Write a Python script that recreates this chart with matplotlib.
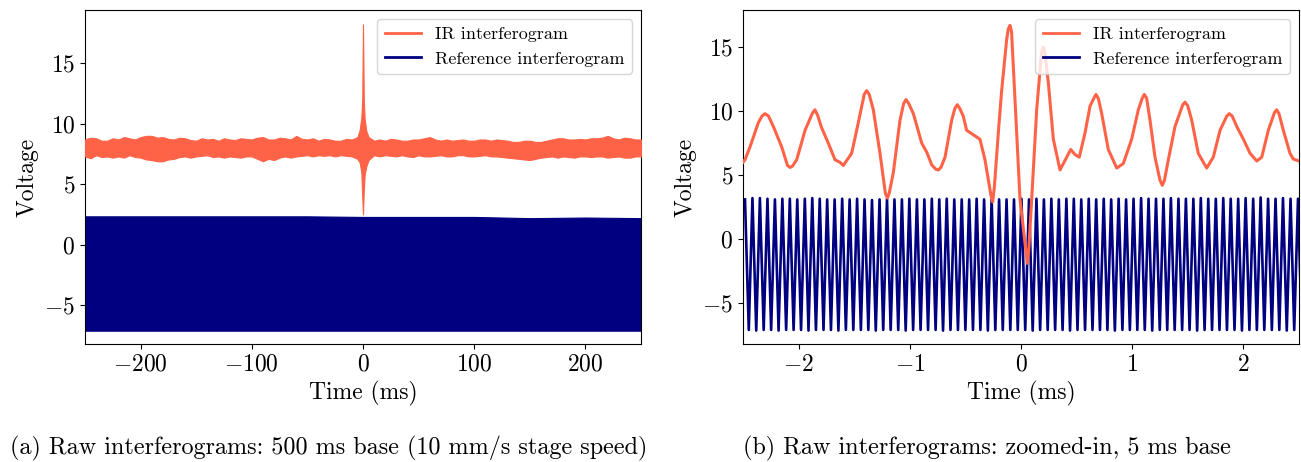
import matplotlib
matplotlib.use("Agg")
import matplotlib.pyplot as plt
from matplotlib.lines import Line2D

plt.rcParams['font.family'] = 'serif'
plt.rcParams['font.serif'] = ['cmr10']
plt.rcParams['mathtext.fontset'] = 'cm'
plt.rcParams['axes.formatter.use_mathtext'] = True

IR_COLOR = '#FF6347'
REF_COLOR = '#000080'

# ---------------- Panel (a): 500 ms base, envelopes ----------------
ir_env_t = [-250, -245, -240, -235, -230, -225, -220, -215, -210, -205,
            -200, -195, -190, -185, -180, -175, -170, -165, -160, -155,
            -150, -145, -140, -135, -130, -125, -120, -115, -110, -105,
            -100, -95, -90, -85, -80, -75, -70, -65, -60, -55,
            -50, -45, -40, -35, -30, -25, -20, -15, -10,
            -5, -3, -1.5, -0.7, 0, 0.7, 1.5, 3, 5,
            10, 15, 20, 25, 30, 35, 40, 45, 50, 55,
            60, 65, 70, 75, 80, 85, 90, 95, 100, 105,
            110, 115, 120, 125, 130, 135, 140, 145, 150, 155,
            160, 165, 170, 175, 180, 185, 190, 195, 200, 205,
            210, 215, 220, 225, 230, 235, 240, 245, 250]
ir_env_hi = [8.7, 8.85, 8.8, 8.6, 8.6, 8.8, 8.7, 8.9, 8.8, 8.7,
             8.9, 9.0, 9.0, 8.85, 8.9, 8.75, 8.7, 8.85, 8.8, 8.65,
             8.6, 8.8, 8.7, 8.75, 8.6, 8.8, 8.7, 8.65, 8.8, 8.75,
             8.7, 8.85, 8.9, 8.7, 8.7, 8.85, 8.8, 8.7, 9.0, 8.75,
             8.7, 8.8, 8.6, 8.75, 8.7, 8.6, 8.6, 8.75, 8.7,
             8.9, 9.5, 10.5, 12.0, 18.2, 12.0, 10.4, 9.4, 8.9,
             8.6, 8.7, 8.6, 8.75, 8.7, 8.6, 8.6, 8.7, 8.7, 8.8,
             8.9, 8.7, 8.6, 8.7, 8.6, 8.65, 8.7, 8.6, 8.6, 8.7,
             8.7, 8.6, 8.7, 8.65, 8.6, 8.5, 8.5, 8.6, 8.6, 8.5,
             8.5, 8.6, 8.7, 8.8, 8.8, 8.7, 8.7, 8.75, 8.7, 8.8,
             8.8, 8.85, 9.0, 8.8, 8.7, 8.85, 8.8, 8.7, 8.7]
ir_env_lo = [7.3, 7.15, 7.4, 7.25, 7.3, 7.2, 7.3, 7.2, 7.4, 7.25,
             7.2, 7.05, 7.0, 6.9, 6.9, 7.05, 7.1, 7.25, 7.3, 7.2,
             7.3, 7.35, 7.4, 7.25, 7.3, 7.2, 7.3, 7.25, 7.2, 7.3,
             7.3, 7.1, 6.9, 7.1, 7.0, 7.2, 7.3, 7.2, 7.3, 7.35,
             7.4, 7.3, 7.4, 7.35, 7.4, 7.3, 7.4, 7.35, 7.3,
             7.1, 6.8, 6.0, 4.0, 2.5, 4.5, 5.8, 6.5, 7.0,
             7.4, 7.3, 7.4, 7.35, 7.3, 7.4, 7.3, 7.25, 7.4, 7.3,
             7.3, 7.35, 7.4, 7.3, 7.3, 7.4, 7.4, 7.3, 7.3, 7.35,
             7.4, 7.3, 7.3, 7.25, 7.2, 7.15, 7.1, 7.05, 7.0, 7.1,
             7.2, 7.25, 7.3, 7.2, 7.3, 7.25, 7.2, 7.3, 7.3, 7.25,
             7.3, 7.3, 7.2, 7.25, 7.3, 7.2, 7.2, 7.3, 7.3]

ref_env_t = [-250, -200, -150, -100, -50, 0, 50, 100, 150, 200, 250]
ref_env_hi = [2.35, 2.35, 2.35, 2.35, 2.35, 2.3, 2.3, 2.3, 2.2, 2.25, 2.2]
ref_env_lo = [-7.1, -7.1, -7.1, -7.1, -7.1, -7.1, -7.1, -7.1, -7.1, -7.1, -7.1]

# ---------------- Panel (b): 5 ms base ----------------
ir_zoom_t = [-2.50, -2.482, -2.437, -2.362, -2.33, -2.302, -2.27, -2.227, -2.152, -2.10,
             -2.077, -2.055, -2.017, -1.942, -1.875, -1.853, -1.83, -1.793, -1.733, -1.673,
             -1.628, -1.598, -1.523, -1.463, -1.41, -1.388, -1.365, -1.328, -1.268, -1.22,
             -1.202, -1.185, -1.148, -1.088, -1.055, -1.034, -1.01, -0.968, -0.893, -0.848,
             -0.803, -0.765, -0.743, -0.72, -0.683, -0.623, -0.595, -0.573, -0.55, -0.519,
             -0.489, -0.429, -0.369, -0.324, -0.27, -0.255, -0.24, -0.204, -0.175, -0.13,
             -0.115, -0.099, -0.085, -0.054, -0.009, 0.045, 0.057, 0.07, 0.096, 0.141,
             0.185, 0.201, 0.215, 0.246, 0.291, 0.351, 0.411, 0.447, 0.486, 0.524,
             0.576, 0.621, 0.655, 0.674, 0.695, 0.726, 0.785, 0.861, 0.92, 0.995,
             1.055, 1.09, 1.109, 1.13, 1.16, 1.205, 1.25, 1.271, 1.29, 1.325,
             1.385, 1.455, 1.475, 1.50, 1.535, 1.594, 1.67, 1.729, 1.79, 1.85,
             1.873, 1.90, 1.94, 2.0, 2.06, 2.12, 2.165, 2.224, 2.28, 2.299,
             2.32, 2.359, 2.419, 2.449, 2.5]
ir_zoom_v = [6.0, 6.2, 7.2, 9.1, 9.6, 9.8, 9.6, 8.8, 7.2, 5.75,
             5.6, 5.7, 6.2, 8.5, 9.85, 10.1, 9.7, 8.7, 7.5, 6.2,
             6.0, 5.75, 6.7, 9.1, 11.3, 11.6, 11.3, 10.1, 6.7, 3.6,
             3.2, 3.6, 5.2, 9.3, 10.6, 10.9, 10.6, 9.8, 7.5, 6.8,
             5.8, 5.45, 5.4, 5.6, 6.4, 9.3, 10.2, 10.5, 10.2, 9.6,
             8.5, 8.15, 7.8, 6.2, 3.4, 2.9, 4.0, 8.3, 11.5, 15.5,
             16.4, 16.7, 16.2, 10.9, 3.1, -1.0, -1.9, -0.8, 3.1, 10.1,
             14.6, 15.0, 14.6, 12.2, 7.8, 5.4, 6.4, 7.0, 6.6, 6.4,
             8.3, 10.4, 11.0, 11.3, 11.0, 9.8, 7.0, 5.55, 5.9, 7.8,
             10.1, 11.0, 11.3, 11.0, 9.3, 6.4, 4.6, 4.2, 4.6, 6.2,
             8.8, 10.5, 10.7, 10.4, 9.3, 6.7, 5.55, 6.4, 8.5, 9.6,
             9.8, 9.6, 8.8, 7.8, 6.7, 6.1, 6.4, 8.5, 9.9, 10.1,
             9.8, 8.5, 6.7, 6.25, 6.1]

ref_crest_t = [-2.482, -2.415, -2.348, -2.280, -2.213, -2.146, -2.079, -2.012, -1.944, -1.877,
               -1.810, -1.743, -1.676, -1.608, -1.541, -1.474, -1.407, -1.340, -1.272, -1.205,
               -1.138, -1.071, -1.004, -0.936, -0.869, -0.802, -0.735, -0.668, -0.600, -0.533,
               -0.466, -0.399, -0.332, -0.264, -0.197, -0.130, -0.063, 0.004, 0.072, 0.139,
               0.206, 0.273, 0.340, 0.408, 0.475, 0.542, 0.609, 0.676, 0.744, 0.811,
               0.878, 0.945, 1.012, 1.080, 1.147, 1.214, 1.281, 1.348, 1.416, 1.483,
               1.550, 1.617, 1.684, 1.752, 1.819, 1.886, 1.953, 2.020, 2.088, 2.155,
               2.222, 2.289, 2.356, 2.424, 2.491]
ref_crest_v = [3.1, 3.2, 3.2, 3.15, 3.1, 3.15, 3.15, 3.1, 3.15, 3.2,
               3.15, 3.1, 3.1, 3.15, 3.1, 3.15, 3.1, 3.05, 3.1, 3.15,
               3.1, 3.1, 3.15, 3.1, 3.1, 3.15, 3.1, 3.15, 3.1, 3.1,
               3.1, 3.15, 3.1, 3.1, 3.1, 3.1, 3.1, 3.15, 3.1, 3.15,
               3.1, 3.15, 3.1, 3.15, 3.15, 3.1, 3.15, 3.1, 3.15, 3.1,
               3.15, 3.1, 3.15, 3.2, 3.15, 3.15, 3.15, 3.2, 3.15, 3.15,
               3.15, 3.2, 3.15, 3.15, 3.2, 3.15, 3.15, 3.2, 3.15, 3.25,
               3.15, 3.15, 3.2, 3.15, 3.15]
ref_trough_t = [-2.448, -2.381, -2.314, -2.247, -2.180, -2.112, -2.045, -1.978, -1.911, -1.844,
                -1.776, -1.709, -1.642, -1.575, -1.508, -1.440, -1.373, -1.306, -1.239, -1.172,
                -1.104, -1.037, -0.970, -0.903, -0.836, -0.768, -0.701, -0.634, -0.567, -0.500,
                -0.432, -0.365, -0.298, -0.231, -0.164, -0.096, -0.029, 0.038, 0.105, 0.172,
                0.240, 0.307, 0.374, 0.441, 0.508, 0.576, 0.643, 0.710, 0.777, 0.844,
                0.912, 0.979, 1.046, 1.113, 1.180, 1.248, 1.315, 1.382, 1.449, 1.516,
                1.584, 1.651, 1.718, 1.785, 1.852, 1.920, 1.987, 2.054, 2.121, 2.188,
                2.256, 2.323, 2.390, 2.457, 2.524]
ref_trough_v = [-7.1, -7.15, -7.1, -7.1, -7.15, -7.1, -7.1, -7.1, -7.15, -7.1,
                -7.1, -7.1, -7.15, -7.1, -7.1, -7.1, -7.1, -7.15, -7.1, -7.1,
                -7.1, -7.15, -7.1, -7.1, -7.1, -7.1, -7.15, -7.1, -7.1, -7.1,
                -7.1, -7.1, -7.15, -7.1, -7.1, -7.1, -7.1, -7.1, -7.15, -7.1,
                -7.1, -7.1, -7.1, -7.15, -7.1, -7.1, -7.1, -7.1, -7.1, -7.15,
                -7.1, -7.1, -7.1, -7.1, -7.15, -7.1, -7.1, -7.1, -7.1, -7.1,
                -7.15, -7.1, -7.1, -7.1, -7.1, -7.1, -7.15, -7.1, -7.1, -7.1,
                -7.1, -7.1, -7.15, -7.1, -7.1]

ref_t = [v for pair in zip(ref_crest_t, ref_trough_t) for v in pair]
ref_v = [v for pair in zip(ref_crest_v, ref_trough_v) for v in pair]

captions = ["(a) Raw interferograms: 500 ms base (10 mm/s stage speed)",
            "(b) Raw interferograms: zoomed-in, 5 ms base"]
legend_labels = ["IR interferogram", "Reference interferogram"]

W, H = 1301, 462
fig = plt.figure(figsize=(W / 100, H / 100), dpi=100)
ax1 = fig.add_axes([85 / W, 1 - 344 / H, 556 / W, 334 / H])
ax2 = fig.add_axes([743 / W, 1 - 344 / H, 556 / W, 334 / H])

FS = 17

# Panel (a)
ax1.fill_between(ref_env_t, ref_env_lo, ref_env_hi, color=REF_COLOR, lw=0.8, zorder=2)
ax1.fill_between(ir_env_t, ir_env_lo, ir_env_hi, color=IR_COLOR, edgecolor=IR_COLOR, lw=0.8, zorder=3)
ax1.set_xlim(-250, 250)
ax1.set_ylim(-8.2, 19.4)
ax1.set_xticks([-200, -100, 0, 100, 200])
ax1.set_yticks([-5, 0, 5, 10, 15])

# Panel (b)
ax2.plot(ref_t, ref_v, color=REF_COLOR, lw=1.9, zorder=2)
ax2.plot(ir_zoom_t, ir_zoom_v, color=IR_COLOR, lw=2.2, zorder=3)
ax2.set_xlim(-2.5, 2.5)
ax2.set_ylim(-8.2, 17.9)
ax2.set_xticks([-2, -1, 0, 1, 2])
ax2.set_yticks([-5, 0, 5, 10, 15])

handles = [Line2D([], [], color=IR_COLOR, lw=2), Line2D([], [], color=REF_COLOR, lw=2)]
for ax in (ax1, ax2):
    ax.tick_params(labelsize=FS)
    ax.set_xlabel("Time (ms)", fontsize=FS)
    ax.set_ylabel("Voltage", fontsize=FS)
    ax.legend(handles, legend_labels, loc='upper right', fontsize=13)

fig.text(329 / W, 1 - 448 / H, captions[0], ha='center', va='center', fontsize=17.4)
fig.text(987 / W, 1 - 448 / H, captions[1], ha='center', va='center', fontsize=17.4)

fig.savefig("out.png", dpi=100)
